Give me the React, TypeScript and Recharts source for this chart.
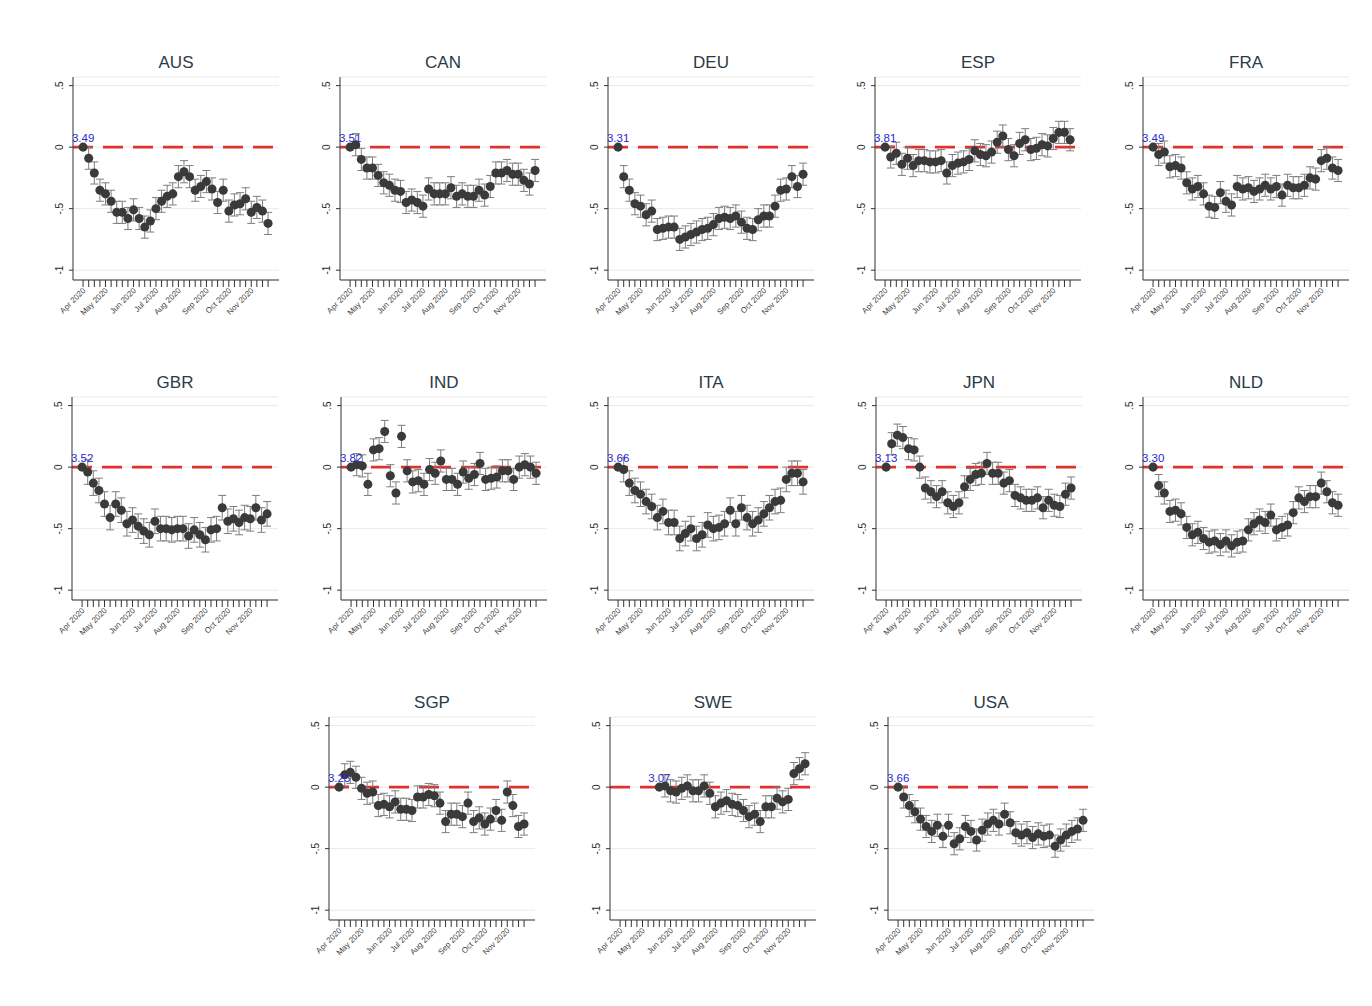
import React from 'react';
import { ScatterChart, Scatter, XAxis, YAxis, CartesianGrid, ErrorBar, ReferenceLine, ReferenceDot } from 'recharts';

// weekly estimates relative to the first week (week 0 = Apr 2020)
const weekTicks = [0, 1, 2, 3, 4, 5, 6, 7, 8, 9, 10, 11, 12, 13, 14, 15, 16, 17, 18, 19, 20, 21, 22, 23, 24, 25, 26, 27, 28, 29, 30, 31, 32, 33];
const monthWeeks = [0, 4, 9, 13, 17, 22, 26, 30];
const monthLabels = ['Apr 2020', 'May 2020', 'Jun 2020', 'Jul 2020', 'Aug 2020', 'Sep 2020', 'Oct 2020', 'Nov 2020'];
const yTicks = [-1, -0.5, 0, 0.5];
const yTickLabels = ['-1', '-.5', '0', '.5'];

const countries = ['AUS', 'CAN', 'DEU', 'ESP', 'FRA', 'GBR', 'IND', 'ITA', 'JPN', 'NLD', 'SGP', 'SWE', 'USA'];
const baseLabels = ['3.49', '3.51', '3.31', '3.81', '3.49', '3.52', '3.82', '3.66', '3.13', '3.30', '3.25', '3.07', '3.66'];
const startWeeks = [0, 0, 0, 0, 0, 0, 0, 0, 0, 0, 0, 7, 0];
const ciHalf = [0.09, 0.09, 0.09, 0.09, 0.09, 0.1, 0.09, 0.1, 0.09, 0.09, 0.09, 0.09, 0.09];

const aus = [0, -0.09, -0.21, -0.35, -0.38, -0.44, -0.53, -0.53, -0.58, -0.51, -0.58, -0.65, -0.6, -0.5, -0.44, -0.4, -0.38, -0.24, -0.2, -0.24, -0.35, -0.32, -0.28, -0.34, -0.45, -0.35, -0.52, -0.47, -0.46, -0.42, -0.53, -0.49, -0.52, -0.62];
const can = [0, 0.02, -0.1, -0.17, -0.17, -0.23, -0.29, -0.31, -0.35, -0.36, -0.45, -0.43, -0.45, -0.48, -0.34, -0.38, -0.38, -0.38, -0.33, -0.4, -0.38, -0.4, -0.4, -0.35, -0.39, -0.32, -0.21, -0.21, -0.19, -0.22, -0.22, -0.27, -0.3, -0.19];
const deu = [0, -0.24, -0.35, -0.46, -0.48, -0.55, -0.52, -0.67, -0.66, -0.65, -0.65, -0.75, -0.73, -0.71, -0.69, -0.67, -0.66, -0.63, -0.58, -0.57, -0.58, -0.56, -0.61, -0.66, -0.67, -0.59, -0.56, -0.56, -0.48, -0.35, -0.34, -0.24, -0.32, -0.22];
const esp = [0, -0.08, -0.05, -0.14, -0.09, -0.15, -0.11, -0.11, -0.12, -0.12, -0.11, -0.21, -0.15, -0.13, -0.12, -0.1, -0.03, -0.06, -0.07, -0.04, 0.04, 0.09, -0.02, -0.07, 0.03, 0.06, -0.02, -0.01, 0.02, 0.01, 0.07, 0.12, 0.12, 0.06];
const fra = [0, -0.06, -0.04, -0.16, -0.15, -0.17, -0.29, -0.34, -0.32, -0.38, -0.48, -0.49, -0.37, -0.44, -0.47, -0.32, -0.34, -0.33, -0.36, -0.34, -0.31, -0.34, -0.32, -0.39, -0.31, -0.33, -0.33, -0.31, -0.25, -0.26, -0.11, -0.09, -0.17, -0.19];
const gbr = [0, -0.04, -0.13, -0.19, -0.3, -0.41, -0.3, -0.35, -0.46, -0.43, -0.48, -0.52, -0.55, -0.44, -0.5, -0.5, -0.51, -0.5, -0.5, -0.56, -0.51, -0.55, -0.59, -0.51, -0.5, -0.33, -0.44, -0.42, -0.45, -0.41, -0.42, -0.33, -0.43, -0.38];
const ind = [0, 0.02, 0.01, -0.14, 0.14, 0.15, 0.29, -0.07, -0.21, 0.25, -0.03, -0.12, -0.11, -0.14, -0.02, -0.05, 0.05, -0.1, -0.1, -0.14, -0.04, -0.09, -0.06, 0.03, -0.1, -0.09, -0.08, -0.03, -0.03, -0.1, 0, 0.02, 0, -0.05];
const ita = [0, -0.02, -0.13, -0.19, -0.22, -0.28, -0.32, -0.41, -0.36, -0.45, -0.45, -0.58, -0.54, -0.5, -0.58, -0.55, -0.47, -0.5, -0.49, -0.46, -0.35, -0.46, -0.33, -0.41, -0.46, -0.43, -0.38, -0.33, -0.28, -0.27, -0.1, -0.05, -0.05, -0.12];
const jpn = [0, 0.19, 0.26, 0.24, 0.15, 0.14, 0, -0.17, -0.2, -0.24, -0.2, -0.29, -0.32, -0.29, -0.16, -0.1, -0.06, -0.05, 0.03, -0.05, -0.05, -0.13, -0.11, -0.23, -0.25, -0.27, -0.27, -0.25, -0.33, -0.27, -0.31, -0.32, -0.22, -0.17];
const nld = [0, -0.15, -0.21, -0.36, -0.35, -0.38, -0.49, -0.55, -0.53, -0.58, -0.61, -0.6, -0.63, -0.6, -0.64, -0.61, -0.6, -0.51, -0.46, -0.43, -0.45, -0.39, -0.51, -0.49, -0.47, -0.37, -0.25, -0.28, -0.24, -0.24, -0.13, -0.2, -0.29, -0.31];
const sgp = [0, 0.1, 0.12, 0.08, -0.01, -0.05, -0.04, -0.15, -0.14, -0.16, -0.12, -0.18, -0.18, -0.19, -0.08, -0.08, -0.06, -0.07, -0.13, -0.28, -0.22, -0.22, -0.24, -0.13, -0.28, -0.25, -0.3, -0.26, -0.19, -0.27, -0.04, -0.15, -0.32, -0.3];
const swe = [0, 0.01, -0.03, -0.04, -0.01, 0.01, -0.03, -0.03, 0.01, -0.05, -0.16, -0.13, -0.11, -0.14, -0.15, -0.19, -0.24, -0.22, -0.28, -0.16, -0.16, -0.09, -0.12, -0.1, 0.11, 0.15, 0.19];
const usa = [0, -0.08, -0.15, -0.2, -0.26, -0.32, -0.36, -0.31, -0.4, -0.31, -0.46, -0.42, -0.32, -0.36, -0.43, -0.35, -0.3, -0.27, -0.3, -0.22, -0.29, -0.37, -0.39, -0.37, -0.41, -0.38, -0.4, -0.39, -0.48, -0.43, -0.39, -0.36, -0.34, -0.27];

const seriesValues = [aus, can, deu, esp, fra, gbr, ind, ita, jpn, nld, sgp, swe, usa];

// plot-area left / top for each panel
const panelLeft = [73, 340, 608, 875, 1143, 72, 341, 608, 876, 1143, 329, 610, 888];
const panelTop = [77, 77, 77, 77, 77, 397, 397, 397, 397, 397, 717, 717, 717];

const PLOT_W = 206;
const PLOT_H = 203;
const Y_AXIS_W = 30;
const X_AXIS_H = 50;
const M_TOP = 10;
const M_RIGHT = 14;

const YTick = (props: any) => {
  const { x, y, payload } = props;
  const i = yTicks.indexOf(payload.value);
  const tx = x - 4;
  return (
    <text x={tx} y={y} transform={`rotate(-90 ${tx} ${y})`} textAnchor="middle" fontSize={10} fill="#2a2a2a">
      {i >= 0 ? yTickLabels[i] : ''}
    </text>
  );
};

const XTick = (props: any) => {
  const { x, y, payload } = props;
  const i = monthWeeks.indexOf(payload.value);
  if (i < 0) return <g />;
  const ax = x + 3;
  const ay = y + 2;
  return (
    <text x={ax} y={ay} transform={`rotate(-45 ${ax} ${ay})`} textAnchor="end" fontSize={8} fill="#444">
      {monthLabels[i]}
    </text>
  );
};

const Panel = ({ idx }: { idx: number }) => {
  const start = startWeeks[idx];
  const data = seriesValues[idx].map((v, i) => ({ week: start + i, value: v, err: i === 0 ? 0 : ciHalf[idx] }));
  const left = panelLeft[idx];
  const top = panelTop[idx];
  return (
    <>
      <div
        style={{
          position: 'absolute', left, top: top - 24, width: PLOT_W, textAlign: 'center',
          fontSize: 17, lineHeight: '20px', color: '#2c3a46',
        }}
      >
        {countries[idx]}
      </div>
      <div style={{ position: 'absolute', left: left - Y_AXIS_W, top: top - M_TOP }}>
        <ScatterChart
          width={Y_AXIS_W + PLOT_W + M_RIGHT}
          height={M_TOP + PLOT_H + X_AXIS_H}
          margin={{ top: M_TOP, right: M_RIGHT, left: 0, bottom: 0 }}
        >
          <CartesianGrid vertical={false} stroke="#e9e9e9" />
          <XAxis
            type="number"
            dataKey="week"
            domain={[-1.8, 34.95]}
            allowDataOverflow
            ticks={weekTicks}
            interval={0}
            tickSize={7}
            height={X_AXIS_H}
            stroke="#333"
            tick={(p: any) => <XTick {...p} />}
          />
          <YAxis
            type="number"
            dataKey="value"
            domain={[-1.08, 0.57]}
            allowDataOverflow
            ticks={yTicks}
            interval={0}
            tickSize={4}
            width={Y_AXIS_W}
            stroke="#333"
            tick={(p: any) => <YTick {...p} />}
          />
          <ReferenceLine y={0} stroke="#e0312b" strokeWidth={2.8} strokeDasharray="20 10" />
          <Scatter data={data} fill="#3a3a3a" isAnimationActive={false}>
            <ErrorBar dataKey="err" direction="y" width={4} stroke="#7d7d7d" strokeWidth={1} />
          </Scatter>
          <ReferenceDot
            x={start}
            y={0}
            r={4}
            fill="none"
            stroke="none"
            label={{ value: baseLabels[idx], position: 'top', offset: 1, fill: '#2727d0', fontSize: 11.5 }}
          />
        </ScatterChart>
      </div>
    </>
  );
};

export default function App() {
  return (
    <div
      style={{
        position: 'absolute', left: 0, top: 0, width: 1372, height: 1006, background: '#fff',
        fontFamily: '"Liberation Sans", Arial, sans-serif',
      }}
    >
      {countries.map((c, i) => (
        <Panel key={c} idx={i} />
      ))}
    </div>
  );
}
